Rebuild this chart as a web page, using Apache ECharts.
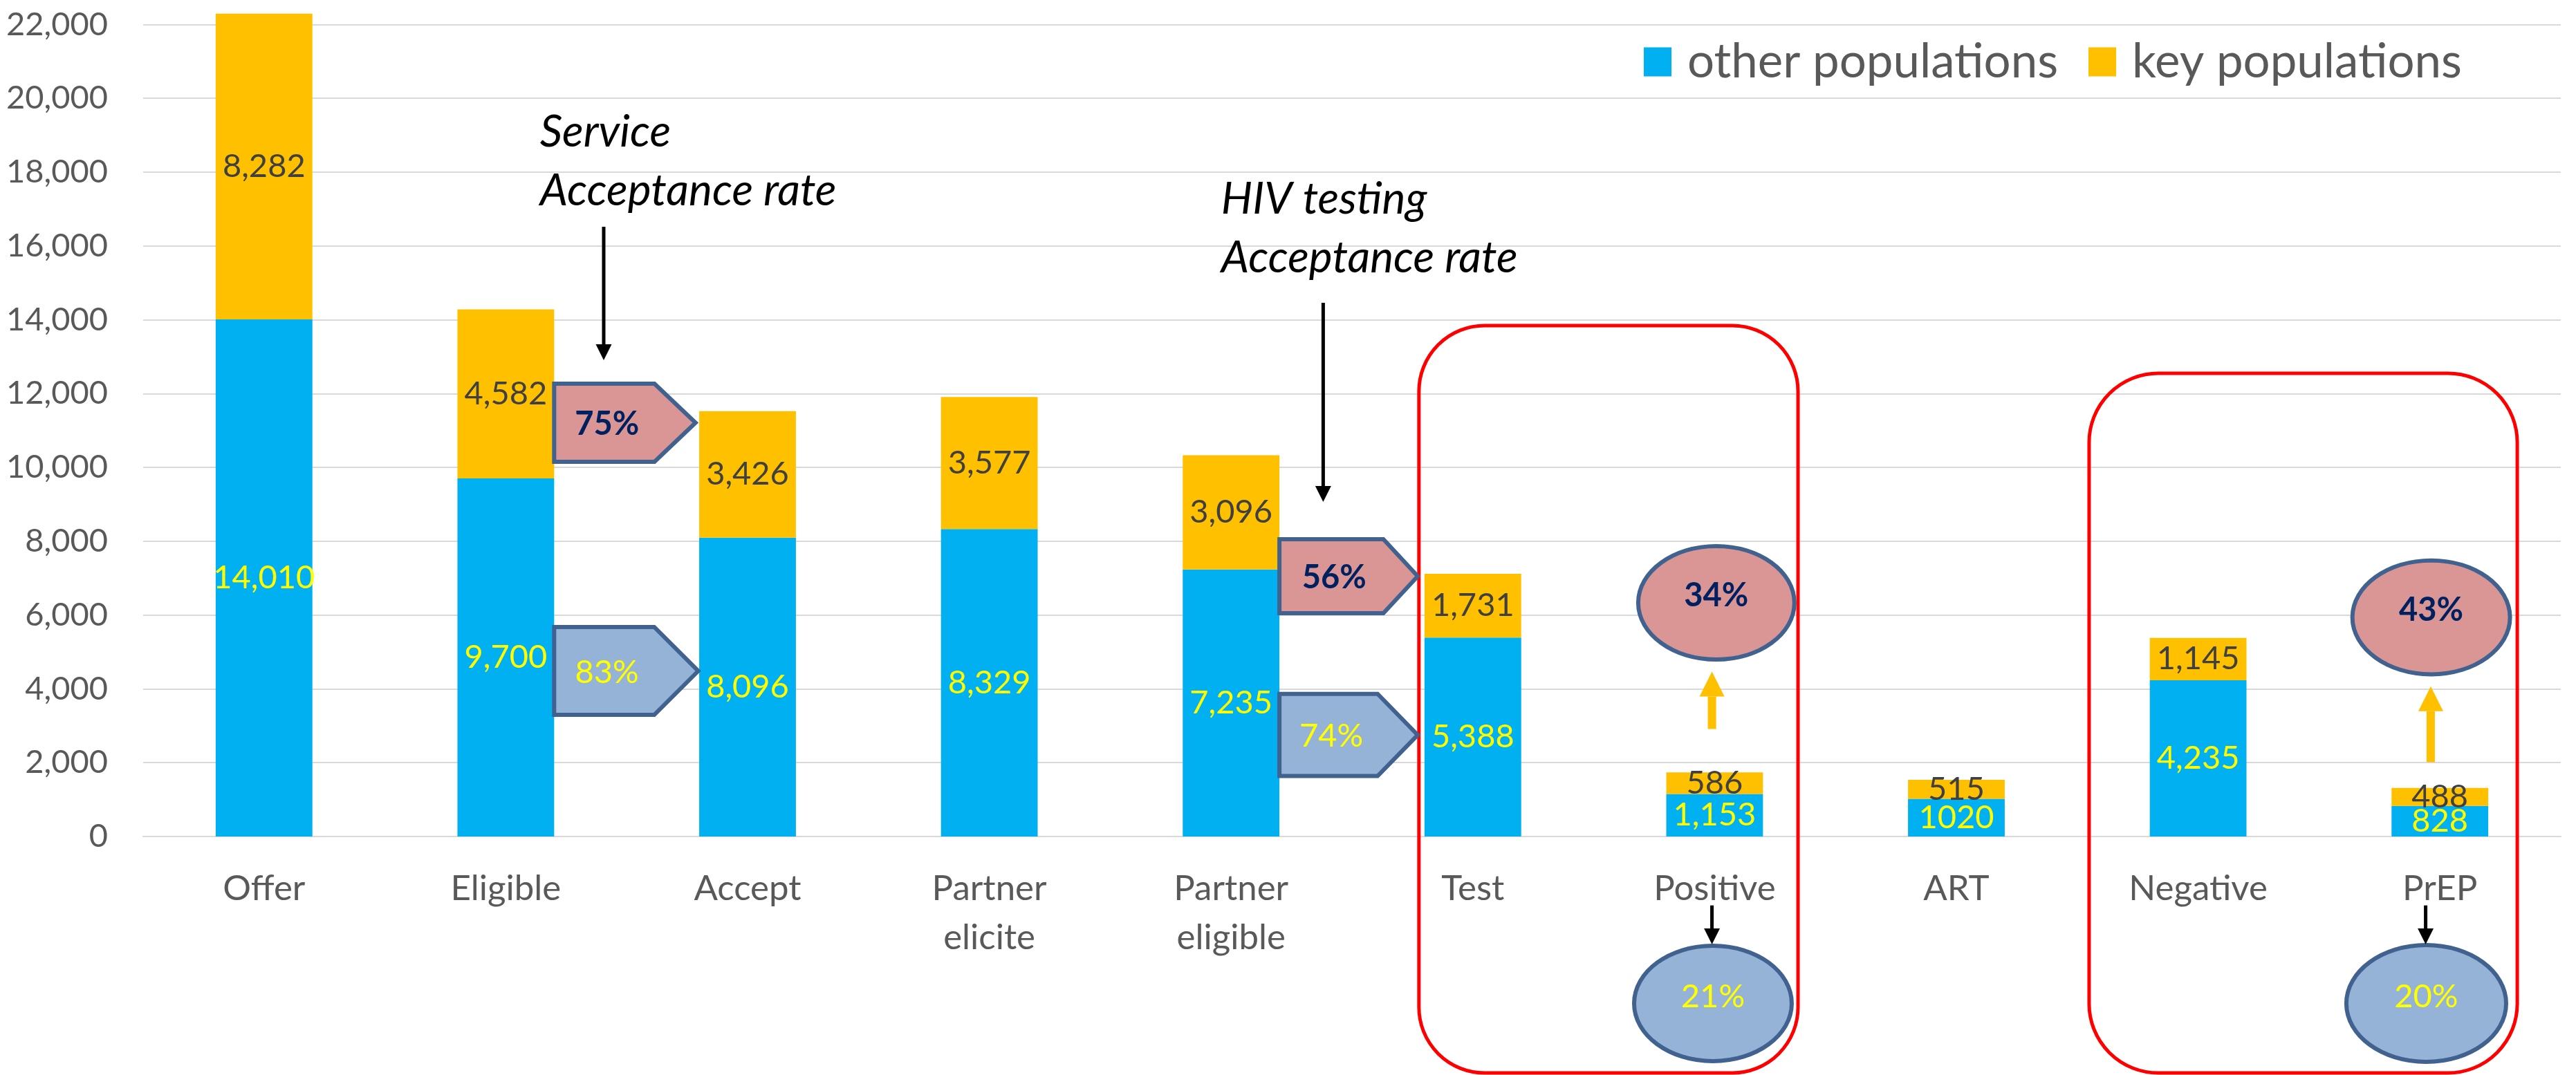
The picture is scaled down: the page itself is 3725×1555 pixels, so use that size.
<!DOCTYPE html>
<html><head><meta charset="utf-8">
<script src="https://cdn.jsdelivr.net/npm/echarts@6/dist/echarts.min.js"></script>
<style>html,body{margin:0;padding:0;background:#fff}#c{width:3725px;height:1555px}</style>
</head><body><div id="c"></div>
<script>
// ---- data ----
const categories = ['Offer','Eligible','Accept','Partner\nelicite','Partner\neligible','Test','Positive','ART','Negative','PrEP'];
const otherPopulations = [14010, 9700, 8096, 8329, 7235, 5388, 1153, 1020, 4235, 828];
const keyPopulations   = [8282, 4582, 3426, 3577, 3096, 1731, 586, 515, 1145, 488];
const otherLabels = ['14,010','9,700','8,096','8,329','7,235','5,388','1,153','1020','4,235','828'];
const keyLabels   = ['8,282','4,582','3,426','3,577','3,096','1,731','586','515','1,145','488'];
const yTickLabels = ['0','2,000','4,000','6,000','8,000','10,000','12,000','14,000','16,000','18,000','20,000','22,000'];
const seriesNames = ['other populations','key populations'];
const serviceRates  = ['75%','83%'];   // key, other
const testingRates  = ['56%','74%'];   // key, other
const positiveRates = ['34%','21%'];   // key, other
const prepRates     = ['43%','20%'];   // key, other
const noteService = 'Service\nAcceptance rate';
const noteTesting = 'HIV testing\nAcceptance rate';

// ---- style ----
const F = 'Lato';
const BLUE = '#00B0F0', GOLD = '#FFC000', GRID = '#D9D9D9', AXT = '#595959';
const PINK = '#D99694', LBLUE = '#95B3D7', EDGE = '#41628F', NAVY = '#002060';

const chart = echarts.init(document.getElementById('c'));
const option = {
  animation: false,
  grid: {left: 207, right: 22, top: 14, bottom: 345},
  legend: {
    data: seriesNames, left: 2372, top: 50, icon: 'rect',
    itemWidth: 40, itemHeight: 42, itemGap: 44,
    textStyle: {fontFamily: F, fontSize: 69, color: AXT, padding: [0,0,0,18]}
  },
  xAxis: {
    type: 'category', data: categories,
    axisLine: {lineStyle: {color: GRID, width: 2}},
    axisTick: {show: false},
    axisLabel: {interval: 0, fontFamily: F, fontSize: 51, lineHeight: 71, color: AXT, margin: 40}
  },
  yAxis: {
    type: 'value', min: 0, max: 22400, interval: 2000,
    axisLine: {show: false}, axisTick: {show: false},
    axisLabel: {showMaxLabel: false, fontFamily: F, fontSize: 47, color: AXT, margin: 51,
      formatter: v => yTickLabels[Math.round(v / 2000)] || ''},
    splitLine: {showMaxLine: false, lineStyle: {color: GRID, width: 2}}
  },
  series: [
    {name: seriesNames[0], type: 'bar', stack: 's', data: otherPopulations, barWidth: '40%',
     itemStyle: {color: BLUE},
     label: {show: true, position: 'inside', fontFamily: F, fontSize: 47, color: '#FFFF00',
       formatter: p => otherLabels[p.dataIndex]}},
    {name: seriesNames[1], type: 'bar', stack: 's', data: keyPopulations, barWidth: '40%',
     itemStyle: {color: GOLD},
     label: {show: true, position: 'inside', fontFamily: F, fontSize: 47, color: '#404040',
       formatter: p => keyLabels[p.dataIndex]}}
  ]
};
chart.setOption(option);

// ---- annotations placed in (category, value) space ----
const X0 = chart.convertToPixel({xAxisIndex: 0}, 0);
const X1 = chart.convertToPixel({xAxisIndex: 0}, 1);
const band = X1 - X0;
const px = c => X0 + c * band;
const py = v => chart.convertToPixel({yAxisIndex: 0}, v);

const els = [];
function pentagon(c0, cs, ct, vTop, vBot, fill, text, color, bold) {
  const l = px(c0), s = px(cs), t = px(ct), yt = py(vTop), yb = py(vBot), ym = (yt + yb) / 2;
  els.push({type: 'polygon', z: 50, shape: {points: [[l,yt],[s,yt],[t,ym],[s,yb],[l,yb]]},
    style: {fill: fill, stroke: EDGE, lineWidth: 6}});
  els.push({type: 'text', z: 51, x: (l + s) / 2 + 4, y: ym + 2,
    style: {text: text, fill: color, font: (bold ? 'bold ' : '') + '47px ' + F, align: 'center', verticalAlign: 'middle'}});
}
function ellipse(c0, c1, v0, v1, fill, text, color, bold) {
  const l = px(c0), r = px(c1), t = py(v0), b = py(v1);
  els.push({type: 'ellipse', z: 50, shape: {cx: (l + r) / 2, cy: (t + b) / 2, rx: (r - l) / 2, ry: (b - t) / 2},
    style: {fill: fill, stroke: EDGE, lineWidth: 6}});
  els.push({type: 'text', z: 51, x: (l + r) / 2, y: (t + b) / 2 - 10,
    style: {text: text, fill: color, font: (bold ? 'bold ' : '') + '47px ' + F, align: 'center', verticalAlign: 'middle'}});
}
function arrow(c, vFrom, vTo, color, shaft, headW, headL) {
  const x = px(c), y0 = py(vFrom), y1 = py(vTo), dir = y1 > y0 ? 1 : -1;
  els.push({type: 'line', z: 52, shape: {x1: x, y1: y0, x2: x, y2: y1 - dir * headL},
    style: {stroke: color, lineWidth: shaft}});
  els.push({type: 'polygon', z: 52, shape: {points: [[x - headW/2, y1 - dir*headL],[x + headW/2, y1 - dir*headL],[x, y1]]},
    style: {fill: color}});
}
function box(c0, c1, v0, v1, r) {
  const l = px(c0), rr = px(c1), t = py(v0), b = py(v1);
  els.push({type: 'rect', z: 49, shape: {x: l, y: t, width: rr - l, height: b - t, r: r},
    style: {fill: 'none', stroke: '#FF0000', lineWidth: 5}});
}
function note(c, v, text) {
  els.push({type: 'text', z: 53, x: px(c), y: py(v),
    style: {text: text, fill: '#000', font: 'italic 64px ' + F, lineHeight: 85, align: 'left', verticalAlign: 'top'}});
}

box(4.777, 6.345, 13841, -6405, 95);
box(7.549, 9.32, 12549, -6405, 100);

pentagon(1.2, 1.615, 1.785, 12268, 10151, PINK, serviceRates[0], NAVY, true);
pentagon(1.2, 1.614, 1.796, 5675, 3296, LBLUE, serviceRates[1], '#FFFF00', false);
pentagon(4.2, 4.63, 4.772, 8053, 6050, PINK, testingRates[0], NAVY, true);
pentagon(4.2, 4.606, 4.772, 3864, 1637, LBLUE, testingRates[1], '#FFFF00', false);

ellipse(5.684, 6.330, 7866, 4795, PINK, positiveRates[0], NAVY, true);
ellipse(5.667, 6.319, -2959, -6087, LBLUE, positiveRates[1], '#FFFF00', false);
ellipse(8.638, 9.290, 7479, 4394, PINK, prepRates[0], NAVY, true);
ellipse(8.613, 9.274, -2941, -6106, LBLUE, prepRates[1], '#FFFF00', false);

arrow(1.405, 16519, 12904, '#000', 5, 23, 23);
arrow(4.381, 14459, 9065, '#000', 5, 23, 23);
arrow(5.989, 2912, 4465, GOLD, 12, 36, 36);
arrow(8.962, 2015, 4068, GOLD, 12, 36, 36);
arrow(5.989, -1867, -2922, '#000', 5, 23, 23);
arrow(8.941, -1867, -2922, '#000', 5, 23, 23);

note(1.141, 19881, noteService);
note(3.959, 18064, noteTesting);

chart.setOption({graphic: {elements: els}});
</script></body></html>
